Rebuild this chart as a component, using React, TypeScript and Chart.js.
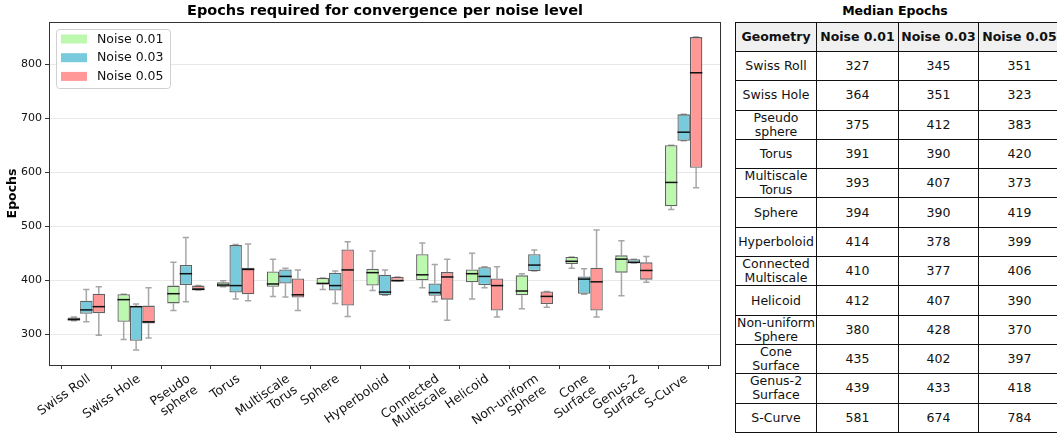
import React, { useEffect, useRef } from "react";
import { Chart, registerables } from "chart.js";

Chart.register(...registerables);

// ---------- DATA ----------
const categories: string[][] = [
  ["Swiss Roll"], ["Swiss Hole"], ["Pseudo", "sphere"], ["Torus"], ["Multiscale", "Torus"],
  ["Sphere"], ["Hyperboloid"], ["Connected", "Multiscale"], ["Helicoid"], ["Non-uniform", "Sphere"],
  ["Cone", "Surface"], ["Genus-2", "Surface"], ["S-Curve"],
];
const seriesNames = ["Noise 0.01", "Noise 0.03", "Noise 0.05"];
const seriesColors = ["#bcf8ae", "#78cbdc", "#ff9896"];

// Noise 0.01
const n01WhisLo = [325, 290, 344, 388, 370, 383, 381, 386, 365, 347, 422, 371, 531];
const n01Q1 = [326, 323, 357, 388, 388, 392, 390, 400, 396, 372, 430, 414, 537];
const n01Median = [327, 364, 375, 391, 393, 394, 414, 410, 412, 380, 435, 439, 581];
const n01Q3 = [331, 374, 390, 396, 416, 404, 421, 448, 420, 409, 443, 446, 650];
const n01WhisHi = [332, 374, 433, 399, 439, 404, 454, 469, 450, 412, 443, 473, 650];

// Noise 0.03
const n03WhisLo = [323, 271, 360, 365, 369, 357, 372, 360, 386, 417, 374, 432, 658];
const n03Q1 = [338, 288, 391, 377, 394, 381, 372, 371, 391, 417, 375, 432, 658];
const n03Median = [345, 351, 412, 390, 407, 390, 378, 377, 407, 428, 402, 433, 674];
const n03Q3 = [362, 352, 428, 465, 420, 414, 410, 394, 424, 448, 407, 439, 707];
const n03WhisHi = [383, 356, 479, 466, 422, 417, 419, 429, 425, 456, 421, 439, 707];

// Noise 0.05
const n05WhisLo = [298, 293, 382, 362, 344, 333, 399, 326, 332, 350, 332, 396, 571];
const n05Q1 = [339, 320, 383, 374, 368, 353, 399, 364, 344, 356, 344, 401, 608];
const n05Median = [351, 323, 383, 420, 373, 419, 399, 406, 390, 370, 397, 418, 784];
const n05Q3 = [375, 353, 390, 423, 403, 457, 406, 415, 403, 379, 423, 433, 850];
const n05WhisHi = [388, 386, 390, 467, 419, 471, 406, 439, 425, 379, 493, 444, 850];

const yTicks = [300, 400, 500, 600, 700, 800];
const yMin = 243;
const yMax = 878;

const stats = [
  { lo: n01WhisLo, q1: n01Q1, med: n01Median, q3: n01Q3, hi: n01WhisHi },
  { lo: n03WhisLo, q1: n03Q1, med: n03Median, q3: n03Q3, hi: n03WhisHi },
  { lo: n05WhisLo, q1: n05Q1, med: n05Median, q3: n05Q3, hi: n05WhisHi },
];

const FONT = '"DejaVu Sans", sans-serif';

const boxPlugin = {
  id: "boxExtras",
  beforeDatasetsDraw(chart: any) {
    const ctx = chart.ctx;
    const ys = chart.scales.y;
    chart.data.datasets.forEach((_: any, di: number) => {
      const meta = chart.getDatasetMeta(di);
      const st = stats[di];
      meta.data.forEach((el: any, i: number) => {
        const { x, width } = el.getProps(["x", "width"], true);
        const yLo = ys.getPixelForValue(st.lo[i]);
        const yQ1 = ys.getPixelForValue(st.q1[i]);
        const yQ3 = ys.getPixelForValue(st.q3[i]);
        const yHi = ys.getPixelForValue(st.hi[i]);
        const cap = width / 4;
        ctx.save();
        ctx.strokeStyle = "rgba(120,120,120,0.65)";
        ctx.lineWidth = 1.5;
        ctx.beginPath();
        ctx.moveTo(x, yQ1); ctx.lineTo(x, yLo);
        ctx.moveTo(x, yQ3); ctx.lineTo(x, yHi);
        ctx.moveTo(x - cap, yLo); ctx.lineTo(x + cap, yLo);
        ctx.moveTo(x - cap, yHi); ctx.lineTo(x + cap, yHi);
        ctx.stroke();
        ctx.restore();
      });
    });
  },
  afterDatasetsDraw(chart: any) {
    const ctx = chart.ctx;
    const ys = chart.scales.y;
    chart.data.datasets.forEach((_: any, di: number) => {
      const meta = chart.getDatasetMeta(di);
      const st = stats[di];
      meta.data.forEach((el: any, i: number) => {
        const { x, width } = el.getProps(["x", "width"], true);
        const yM = ys.getPixelForValue(st.med[i]);
        ctx.save();
        ctx.strokeStyle = "#111";
        ctx.lineWidth = 1.5;
        ctx.beginPath();
        ctx.moveTo(x - width / 2, yM);
        ctx.lineTo(x + width / 2, yM);
        ctx.stroke();
        ctx.restore();
      });
    });
  },
  afterDraw(chart: any) {
    const ctx = chart.ctx;
    const a = chart.chartArea;
    ctx.save();
    // frame
    ctx.strokeStyle = "#333";
    ctx.lineWidth = 1;
    ctx.strokeRect(a.left + 0.5, a.top + 0.5, a.right - a.left - 1, a.bottom - a.top);
    // title
    ctx.fillStyle = "#000";
    ctx.font = `bold 14.5px ${FONT}`;
    ctx.textAlign = "center";
    ctx.textBaseline = "middle";
    ctx.fillText("Epochs required for convergence per noise level", (a.left + a.right) / 2, 11);
    // legend
    const lx = a.left + 7, ly = a.top + 7, lw = 114, lh = 59;
    ctx.fillStyle = "rgba(255,255,255,0.9)";
    ctx.strokeStyle = "#d0d0d0";
    ctx.beginPath();
    ctx.roundRect(lx + 0.5, ly + 0.5, lw, lh, 3);
    ctx.fill();
    ctx.stroke();
    ctx.font = `12.5px ${FONT}`;
    ctx.textAlign = "left";
    seriesNames.forEach((n, i) => {
      const cy = ly + 10 + i * 18.7;
      ctx.fillStyle = seriesColors[i];
      ctx.fillRect(lx + 5, cy - 4.5, 26, 9);
      ctx.fillStyle = "#111";
      ctx.fillText(n, lx + 41, cy + 0.5);
    });
    ctx.restore();
  },
};

function BoxChart() {
  const ref = useRef<HTMLCanvasElement | null>(null);
  useEffect(() => {
    if (!ref.current) return;
    const datasets = stats.map((st, di) => ({
      label: seriesNames[di],
      data: categories.map((_, i) => ({ x: i, y: [st.q1[i], st.q3[i]] })),
      backgroundColor: seriesColors[di],
      borderColor: "rgba(70,70,70,0.85)",
      borderWidth: 1.3,
      borderSkipped: false,
      categoryPercentage: 0.75,
      barPercentage: 1.0,
    }));
    const chart = new Chart(ref.current, {
      type: "bar",
      data: { datasets } as any,
      plugins: [boxPlugin],
      options: {
        animation: false,
        responsive: false,
        devicePixelRatio: 1,
        layout: { padding: { top: 22, right: 7, left: 0, bottom: 0 } },
        plugins: { legend: { display: false }, tooltip: { enabled: false }, title: { display: false } },
        scales: {
          x: {
            type: "linear",
            min: -0.75,
            max: 12.75,
            offset: false,
            afterBuildTicks: (s: any) => {
              s.ticks = categories.map((_, i) => ({ value: i }));
            },
            afterFit: (s: any) => { s.height = 68; },
            grid: { drawOnChartArea: false, tickColor: "#333", tickLength: 4 },
            border: { display: false },
            ticks: {
              autoSkip: false,
              minRotation: 35,
              maxRotation: 35,
              padding: 3,
              labelOffset: 3,
              color: "#111",
              font: { family: FONT, size: 12.5, lineHeight: 1.1 },
              callback: (v: any) => categories[Math.round(v)] ?? "",
            },
          },
          y: {
            min: yMin,
            max: yMax,
            afterBuildTicks: (s: any) => {
              s.ticks = yTicks.map((v) => ({ value: v }));
            },
            afterFit: (s: any) => { s.width = 49; },
            grid: { color: "#e8e8e8", tickColor: "#333", tickLength: 4, lineWidth: 1 },
            border: { display: false },
            ticks: { color: "#111", padding: 3, font: { family: FONT, size: 11 } },
            title: {
              display: true,
              text: "Epochs",
              color: "#000",
              font: { family: FONT, size: 12.5, weight: "bold" },
              padding: { top: 5, bottom: 2 },
            },
          },
        },
      } as any,
    });
    return () => chart.destroy();
  }, []);
  return (
    <canvas
      ref={ref}
      width={728}
      height={433}
      style={{ position: "absolute", left: 0, top: 0, width: 728, height: 433 }}
    />
  );
}

function MedianTable() {
  const colWidths = [81, 82, 80, 82];
  const cell: React.CSSProperties = {
    border: "1px solid #111",
    padding: 0,
    textAlign: "center",
    verticalAlign: "middle",
    lineHeight: "14px",
    color: "#111",
  };
  return (
    <div style={{ position: "absolute", left: 735, top: 0 }}>
      <div
        style={{
          position: "absolute",
          left: 0,
          width: 320,
          top: 3,
          textAlign: "center",
          fontWeight: "bold",
          fontSize: 12.5,
          lineHeight: "16px",
        }}
      >
        Median Epochs
      </div>
      <table
        style={{
          position: "absolute",
          top: 22,
          left: 0,
          borderCollapse: "collapse",
          tableLayout: "fixed",
          width: colWidths.reduce((a, b) => a + b, 0),
          fontSize: 12.5,
          fontFamily: FONT,
        }}
      >
        <colgroup>
          {colWidths.map((w, i) => (
            <col key={i} style={{ width: w }} />
          ))}
        </colgroup>
        <thead>
          <tr style={{ height: 29 }}>
            {["Geometry", ...seriesNames].map((h) => (
              <th key={h} style={{ ...cell, background: "#f0f0f0", fontWeight: "bold" }}>
                {h}
              </th>
            ))}
          </tr>
        </thead>
        <tbody>
          {categories.map((c, i) => (
            <tr key={i} style={{ height: 29.3 }}>
              <td style={cell}>
                {c.map((line, k) => (
                  <div key={k}>{line}</div>
                ))}
              </td>
              <td style={cell}>{n01Median[i]}</td>
              <td style={cell}>{n03Median[i]}</td>
              <td style={cell}>{n05Median[i]}</td>
            </tr>
          ))}
        </tbody>
      </table>
    </div>
  );
}

export default function App() {
  return (
    <div
      style={{
        position: "fixed",
        left: 0,
        top: 0,
        width: 1057,
        height: 433,
        overflow: "hidden",
        background: "#fff",
        fontFamily: FONT,
      }}
    >
      <BoxChart />
      <MedianTable />
    </div>
  );
}
